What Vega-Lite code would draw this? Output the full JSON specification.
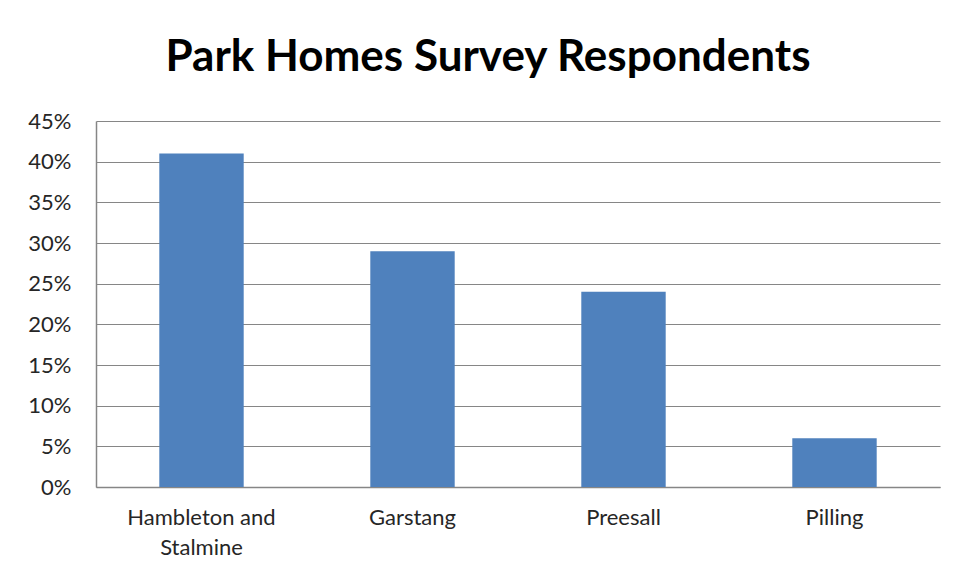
{
  "$schema": "https://vega.github.io/schema/vega-lite/v6.json",
  "autosize": "none",
  "width": 844,
  "height": 366,
  "padding": {"left": 96, "top": 121, "right": 18, "bottom": 94},
  "background": "white",
  "title": {
    "text": "Park Homes Survey Respondents",
    "font": "Lato",
    "fontWeight": "bold",
    "fontSize": 44,
    "color": "#000000",
    "anchor": "middle",
    "dx": -30,
    "offset": 30
  },
  "data": {
    "values": [
      {"location": "Hambleton and Stalmine", "share": 0.41},
      {"location": "Garstang", "share": 0.29},
      {"location": "Preesall", "share": 0.24},
      {"location": "Pilling", "share": 0.06}
    ]
  },
  "mark": {"type": "bar", "color": "#4F81BD"},
  "encoding": {
    "x": {
      "field": "location",
      "type": "nominal",
      "sort": null,
      "scale": {"paddingInner": 0.6, "paddingOuter": 0.3},
      "axis": {
        "title": null,
        "labelAngle": 0,
        "labelFont": "Lato",
        "labelFontSize": 22,
        "labelColor": "#262626",
        "labelPadding": 20,
        "labelLineHeight": 30,
        "ticks": false,
        "domainColor": "#868686",
        "domainWidth": 1.5,
        "labelExpr": "datum.label == 'Hambleton and Stalmine' ? ['Hambleton and', 'Stalmine'] : datum.label"
      }
    },
    "y": {
      "field": "share",
      "type": "quantitative",
      "scale": {"domain": [0, 0.45]},
      "axis": {
        "title": null,
        "format": ".0%",
        "values": [0, 0.05, 0.1, 0.15, 0.2, 0.25, 0.3, 0.35, 0.4, 0.45],
        "labelFont": "Lato",
        "labelFontSize": 22,
        "labelColor": "#262626",
        "labelPadding": 25,
        "ticks": false,
        "domainColor": "#868686",
        "domainWidth": 1.5,
        "gridColor": "#868686",
        "gridWidth": 1
      }
    }
  },
  "config": {
    "view": {"stroke": null}
  }
}
